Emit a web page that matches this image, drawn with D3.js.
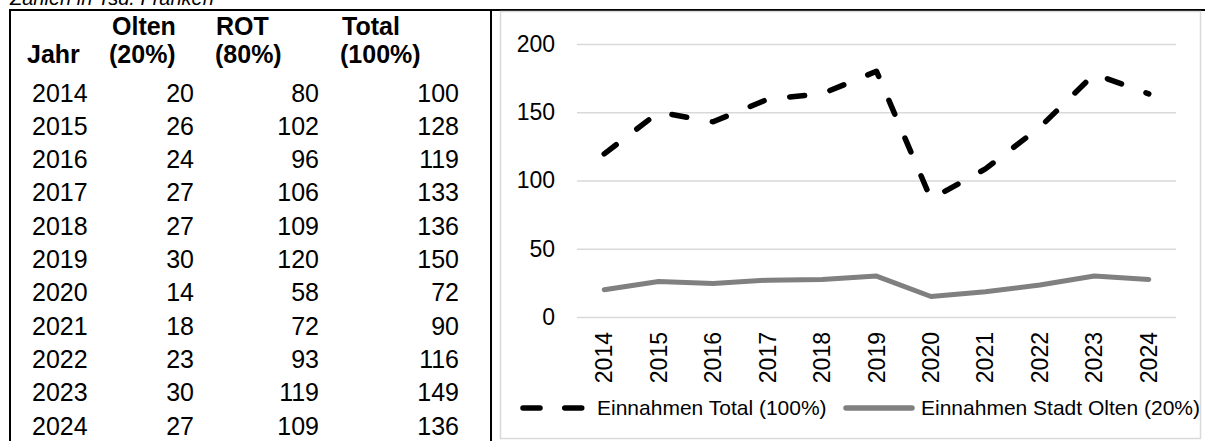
<!DOCTYPE html>
<html>
<head>
<meta charset="utf-8">
<script src="https://cdn.jsdelivr.net/npm/d3@7"></script>
<style>
  html, body { margin: 0; padding: 0; background: #fff; }
  svg { display: block; font-family: "Liberation Sans", Arial, sans-serif; }
</style>
</head>
<body>
<svg id="chart" width="1205" height="441"></svg>
<script>
// ---- data ----
const years = ["2014","2015","2016","2017","2018","2019","2020","2021","2022","2023","2024"];
const tableOlten = [20, 26, 24, 27, 27, 30, 14, 18, 23, 30, 27];
const tableRot = [80, 102, 96, 106, 109, 120, 58, 72, 93, 119, 109];
const tableTotal = [100, 128, 119, 133, 136, 150, 72, 90, 116, 149, 136];
const headers1 = ["", "Olten", "ROT", "Total"];
const headers2 = ["Jahr", "(20%)", "(80%)", "(100%)"];
const chartTotal = [119.5, 150, 143, 159.5, 163.5, 180, 86.5, 108.5, 139, 178, 163.5];
const chartOlten = [20, 26, 24.5, 27, 27.5, 30, 15, 18.5, 23.5, 30, 27.5];
const yTicks = [0, 50, 100, 150, 200];
const seriesNames = ["Einnahmen Total (100%)", "Einnahmen Stadt Olten (20%)"];
const titleText = "Zahlen in Tsd. Franken";

// ---- drawing ----
const svg = d3.select("#chart");

// title (partially cut at top, as in the original)
svg.append("text").attr("x", 10).attr("y", 5)
  .attr("font-size", 20).attr("font-style", "italic").attr("fill", "#000")
  .text(titleText);

// table frame
svg.append("line").attr("x1", 9).attr("x2", 1205).attr("y1", 10).attr("y2", 10)
  .attr("stroke", "#000").attr("stroke-width", 2);
svg.append("line").attr("x1", 10).attr("x2", 10).attr("y1", 9).attr("y2", 441)
  .attr("stroke", "#000").attr("stroke-width", 2);
svg.append("line").attr("x1", 491).attr("x2", 491).attr("y1", 9).attr("y2", 441)
  .attr("stroke", "#000").attr("stroke-width", 2);

// table headers
const hx1 = [28, 112, 216, 342];
const hx2 = [27, 109, 215, 340];
const hg = svg.append("g").attr("font-size", 25).attr("font-weight", "bold").attr("fill", "#000");
headers1.forEach((h, i) => { if (h) hg.append("text").attr("x", hx1[i]).attr("y", 35).text(h); });
headers2.forEach((h, i) => hg.append("text").attr("x", hx2[i]).attr("y", 63).text(h));

// table rows
const rowY = d3.scaleLinear().domain([0, 10]).range([101.5, 434.5]);
const tg = svg.append("g").attr("font-size", 25).attr("fill", "#000");
years.forEach((y, i) => {
  const yy = rowY(i);
  tg.append("text").attr("x", 32).attr("y", yy).text(y);
  tg.append("text").attr("x", 194).attr("y", yy).attr("text-anchor", "end").text(tableOlten[i]);
  tg.append("text").attr("x", 319).attr("y", yy).attr("text-anchor", "end").text(tableRot[i]);
  tg.append("text").attr("x", 459).attr("y", yy).attr("text-anchor", "end").text(tableTotal[i]);
});

// chart area border
svg.append("rect").attr("x", 500.5).attr("y", 11.5).attr("width", 700).attr("height", 427)
  .attr("fill", "#fff").attr("stroke", "#d9d9d9").attr("stroke-width", 1.5);

const plotL = 577, plotR = 1176, plotT = 44, plotB = 317;
const x = d3.scaleBand().domain(years).range([plotL, plotR]).padding(0);
const y = d3.scaleLinear().domain([0, 200]).range([plotB, plotT]);
const cx = d => x(d) + x.bandwidth() / 2;

// y axis with gridlines
const yAxis = svg.append("g").attr("transform", `translate(${plotL},0)`)
  .call(d3.axisLeft(y).tickValues(yTicks).tickSize(-(plotR - plotL)).tickPadding(22));
yAxis.select(".domain").remove();
yAxis.selectAll(".tick line").attr("stroke", "#d9d9d9").attr("stroke-width", 1.5);
yAxis.selectAll(".tick text").attr("font-size", 23).attr("fill", "#000")
  .attr("font-family", "Liberation Sans, Arial, sans-serif");

// x axis labels
const xAxis = svg.append("g").attr("transform", `translate(0,${plotB})`)
  .call(d3.axisBottom(x).tickSize(0).tickPadding(0));
xAxis.select(".domain").remove();
xAxis.selectAll(".tick text")
  .attr("font-size", 23).attr("fill", "#000").attr("font-family", "Liberation Sans, Arial, sans-serif")
  .attr("transform", "rotate(-90)")
  .attr("text-anchor", "end").attr("x", -15).attr("y", 0).attr("dy", "0.35em");

// lines
const line = d3.line().x((d, i) => cx(years[i])).y(d => y(d));
svg.append("path").datum(chartOlten).attr("d", line)
  .attr("fill", "none").attr("stroke", "#808080").attr("stroke-width", 5)
  .attr("stroke-linejoin", "round").attr("stroke-linecap", "round");
svg.append("path").datum(chartTotal).attr("d", line)
  .attr("fill", "none").attr("stroke", "#000").attr("stroke-width", 5.5)
  .attr("stroke-dasharray", "15,26").attr("stroke-linejoin", "round").attr("stroke-linecap", "round");

// legend
const ly = 408;
svg.append("line").attr("x1", 523).attr("x2", 582).attr("y1", ly).attr("y2", ly)
  .attr("stroke", "#000").attr("stroke-width", 5.5).attr("stroke-dasharray", "17,24.75")
  .attr("stroke-linecap", "round");
svg.append("text").attr("x", 597).attr("y", 415).attr("font-size", 21).attr("fill", "#000").text(seriesNames[0]);
svg.append("line").attr("x1", 846).attr("x2", 912).attr("y1", ly).attr("y2", ly)
  .attr("stroke", "#808080").attr("stroke-width", 5.5).attr("stroke-linecap", "round");
svg.append("text").attr("x", 921).attr("y", 415).attr("font-size", 21).attr("fill", "#000").text(seriesNames[1]);
</script>
</body>
</html>
